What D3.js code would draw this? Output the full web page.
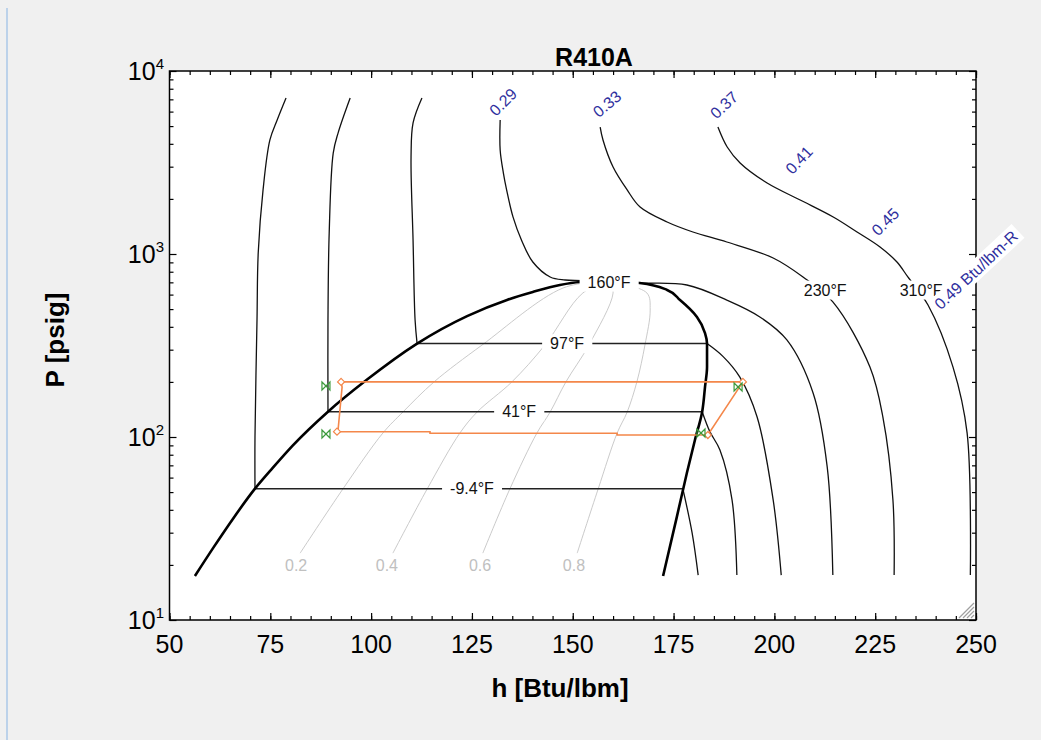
<!DOCTYPE html>
<html>
<head>
<meta charset="utf-8">
<script src="https://cdnjs.cloudflare.com/ajax/libs/d3/7.8.5/d3.min.js"></script>
<style>
body { margin: 0; background: #f0f0f0; }
svg { display: block; font-family: "Liberation Sans", Arial, sans-serif; }
</style>
</head>
<body>
<svg id="chart" width="1041" height="740"></svg>
<script>
// axis ticks
var hMajor = [50, 75, 100, 125, 150, 175, 200, 225, 250];
var pMajor = [10, 100, 1000, 10000];

// saturation dome [h Btu/lbm, P psig]
var satLiquid = [[56.3,17.4],[60.8,24.7],[65.8,35.9],[71.2,52.2],[75.7,68.2],[80.6,90.0],[89.3,137.5],[99.0,206],[111.4,324],[123.8,458],[133.7,561],[140.1,620],[146.8,677],[151.8,703],[159.2,712]];
var satVapor = [[159.2,712],[166.6,694],[173.4,636],[176.6,560],[180.8,453],[182.8,370],[183.3,324],[183.3,241],[182.8,188],[182.1,137.5],[180.3,96.3],[178.3,63.6],[175.8,36.5],[172.4,17.4]];

// isotherms, liquid branch and vapor branch
var isoM9Liq = [[78.9,7120],[76.7,5400],[74.9,4200],[73.2,2240],[72.0,1013],[71.7,436],[71.2,100],[71.2,52.2]];
var isoM9Vap = [[177.3,52.2],[179.6,29.9],[181.1,17.6]];
var iso41Liq = [[94.8,7120],[91.8,4580],[90.6,3560],[89.6,1300],[89.3,436],[89.3,137.5]];
var iso41Vap = [[182.1,137.5],[184.0,107],[186.5,84.9],[189.5,45.3],[190.7,17.6]];
var iso97Liq = [[112.6,7120],[110.4,5200],[109.9,3390],[110.4,1190],[110.9,436],[111.4,324]];
var iso97Vap = [[183.3,324],[187.3,275],[191.4,213],[195.7,129],[199.7,45.3],[201.7,17.6]];
// supercritical / through critical point
var iso160 = [[132.0,5400],[132.0,3700],[132.8,2770],[133.6,2240],[135.2,1590],[137.3,1190],[140.1,904],[144.4,749],[148.1,721],[159.2,712],[166.6,694],[178.3,677],[188.2,560],[196.4,453],[203.1,339],[209.6,174],[213.1,68.6],[214.5,17.6]];
var iso230 = [[156.8,4940],[157.5,4200],[160.0,2990],[163.5,2240],[166.7,1806],[173.4,1496],[179.8,1319],[188.2,1163],[199.7,951],[207.1,749],[214.5,547],[223.7,241],[226.9,129],[229.4,45.3],[229.7,17.6]];
var iso310 = [[186.0,4940],[188.3,3842],[191.5,3143],[198.2,2443],[206.4,1973],[214.6,1593],[220.5,1319],[226.2,1092],[230.4,904],[233.1,749],[238.1,526],[244.3,241],[247.8,105],[248.6,17.6]];

// constant quality lines
var q02 = [[82.4,23.2],[93.0,52.0],[102.9,105],[107.9,137],[115.6,200],[127.5,318],[147.6,652],[159.2,712]];
var q04 = [[105.4,23.2],[113.9,52.0],[122.0,105],[126.3,137],[134.9,200],[143.1,318],[152.5,612],[159.2,712]];
var q06 = [[127.7,23.2],[134.4,52.0],[141.1,105],[144.4,137],[148.3,200],[154.0,318],[160.0,612],[159.2,712]];
var q08 = [[151.1,23.2],[156.3,52.0],[161.0,105],[163.5,137],[165.9,200],[167.9,318],[169.2,494],[168.4,612],[159.2,712]];

// refrigeration cycle
var cycleLine = [[92.55,200],[192.2,200],[183.5,102.5],[161.0,102.5],[161.0,104.8],[114.6,104.8],[114.6,106.9],[91.54,106.9],[91.8,109.2],[92.8,187.6],[92.55,200]];
var statePts = [[92.55,200],[192.2,200],[183.5,102.5],[91.54,106.9]];
var valvePts = [[88.8,190],[88.8,103.8],[191.0,187.6],[181.8,105.2]];

// labels
var isoLabels = [['-9.4°F',125.0,52.2],['41°F',136.7,137.5],['97°F',148.6,324],['160°F',159.0,703],['230°F',212.6,636],['310°F',236.4,636]];
var qualLabels = [['0.2',81.4,20],['0.4',103.9,20],['0.6',127.0,20],['0.8',150.3,20]];
var entLabels = [['0.29',132.7,6770],['0.33',158.5,6600],['0.37',187.5,6520],['0.41',206.1,3260],['0.45',227.5,1500],['0.49 Btu/lbm-R',250.0,818]];
var entAngles = [-45, -40, -43, -47, -45, -43];

var svg = d3.select('#chart');
var plotL = 169.5, plotR = 976, plotT = 71, plotB = 620;

var x = d3.scaleLinear().domain([50, 250]).range([plotL, plotR]);
var y = d3.scaleLog().domain([10, 10000]).range([plotB, plotT]);

var line = d3.line().x(function(d){ return x(d[0]); }).y(function(d){ return y(d[1]); });
var smooth = d3.line().x(function(d){ return x(d[0]); }).y(function(d){ return y(d[1]); })
	.curve(d3.curveCatmullRom.alpha(0.5));

// window edge
svg.append('rect').attr('x', 6).attr('y', 8).attr('width', 2).attr('height', 732).attr('fill', '#bcd2ea');

svg.append('rect').attr('x', plotL).attr('y', plotT).attr('width', plotR - plotL).attr('height', plotB - plotT)
	.attr('fill', '#fff');

//ticks, all pointing inward
var hMinor = d3.range(50, 251, 5);
var pMinor = [];
[10, 100, 1000].forEach(function(d){ for (var k = 2; k < 10; k++) pMinor.push(d * k); });

function tickAxis(axis, vals, size, tx, ty) {
	var g = svg.append('g').attr('transform', 'translate(' + tx + ',' + ty + ')')
		.call(axis.tickValues(vals).tickSize(-size).tickFormat(''));
	g.select('.domain').remove();
	g.selectAll('line').attr('stroke', '#000').attr('stroke-width', 1.2);
	return g;
}
tickAxis(d3.axisBottom(x), hMinor, 4, 0, plotB);
tickAxis(d3.axisBottom(x), hMajor, 7, 0, plotB);
tickAxis(d3.axisTop(x), hMinor, 4, 0, plotT);
tickAxis(d3.axisTop(x), hMajor, 7, 0, plotT);
tickAxis(d3.axisLeft(y), pMinor, 4, plotL, 0);
tickAxis(d3.axisLeft(y), pMajor, 7, plotL, 0);
tickAxis(d3.axisRight(y), pMinor, 4, plotR, 0);
tickAxis(d3.axisRight(y), pMajor, 7, plotR, 0);

// tick labels
svg.append('g').selectAll('text').data(hMajor).enter().append('text')
	.attr('x', function(d){ return x(d); }).attr('y', 653)
	.attr('text-anchor', 'middle').style('font-size', '25px').text(function(d){ return d; });

var yLab = svg.append('g').selectAll('text').data(pMajor).enter().append('text')
	.attr('x', 164).attr('y', function(d){ return y(d) + 9; })
	.attr('text-anchor', 'end').style('font-size', '25px');
yLab.append('tspan').text('10');
yLab.append('tspan').attr('dy', -11).style('font-size', '15px')
	.text(function(d){ return Math.round(Math.log10(d)); });

svg.append('rect').attr('x', plotL).attr('y', plotT).attr('width', plotR - plotL).attr('height', plotB - plotT)
	.attr('fill', 'none').attr('stroke', '#000').attr('stroke-width', 1.5);

// resize grip
svg.append('g').selectAll('line').data([0, 1, 2, 3]).enter().append('line')
	.attr('x1', function(i){ return 959 + i * 4; }).attr('y1', 618)
	.attr('x2', 974).attr('y2', function(i){ return 603 + i * 4; })
	.attr('stroke', '#a0a0a0').attr('stroke-width', 1.3);

var plot = svg.append('g');

// quality lines
[q02, q04, q06, q08].forEach(function(q){
	plot.append('path').attr('d', smooth(q)).attr('fill', 'none')
		.attr('stroke', '#c4c4c4').attr('stroke-width', 0.9);
});

function drawIso(liq, vap) {
	plot.append('path').attr('d', smooth(liq)).attr('fill', 'none').attr('stroke', '#111').attr('stroke-width', 1.3);
	plot.append('path').attr('d', line([liq[liq.length - 1], vap[0]])).attr('fill', 'none').attr('stroke', '#222').attr('stroke-width', 1.5);
	plot.append('path').attr('d', smooth(vap)).attr('fill', 'none').attr('stroke', '#111').attr('stroke-width', 1.3);
}
drawIso(isoM9Liq, isoM9Vap);
drawIso(iso41Liq, iso41Vap);
drawIso(iso97Liq, iso97Vap);
[iso160, iso230, iso310].forEach(function(t){
	plot.append('path').attr('d', smooth(t)).attr('fill', 'none').attr('stroke', '#111').attr('stroke-width', 1.3);
});

// dome
plot.append('path').attr('d', smooth.curve(d3.curveMonotoneX)(satLiquid)).attr('fill', 'none')
	.attr('stroke', '#000').attr('stroke-width', 2.6);
plot.append('path').attr('d', smooth.curve(d3.curveMonotoneY)(satVapor)).attr('fill', 'none')
	.attr('stroke', '#000').attr('stroke-width', 2.6);
smooth.curve(d3.curveCatmullRom.alpha(0.5));

// cycle
plot.append('path').attr('d', line(cycleLine)).attr('fill', 'none')
	.attr('stroke', '#f4874a').attr('stroke-width', 1.6);
plot.selectAll('.state').data(statePts).enter().append('path').attr('class', 'state')
	.attr('transform', function(d){ return 'translate(' + x(d[0]) + ',' + y(d[1]) + ')'; })
	.attr('d', 'M0,-3.5L3.5,0L0,3.5L-3.5,0Z').attr('fill', '#fff').attr('stroke', '#f4874a').attr('stroke-width', 1.2);
plot.selectAll('.valve').data(valvePts).enter().append('path').attr('class', 'valve')
	.attr('transform', function(d){ return 'translate(' + x(d[0]) + ',' + y(d[1]) + ')'; })
	.attr('d', 'M-4,-4L4,4L4,-4L-4,4Z').attr('fill', 'none').attr('stroke', '#3c9a3c').attr('stroke-width', 1.2);

function boxLabel(txt, px, py, size, color, angle, padX, padY, box) {
	var g = svg.append('g').attr('transform', 'translate(' + px + ',' + py + ') rotate(' + angle + ')');
	var r = g.append('rect').attr('fill', '#fff');
	var t = g.append('text').attr('text-anchor', 'middle').attr('dy', '0.35em')
		.style('font-size', size + 'px').attr('fill', color).text(txt);
	var b = t.node().getBBox();
	if (box) r.attr('x', b.x - padX).attr('y', b.y - padY).attr('width', b.width + 2 * padX).attr('height', b.height + 2 * padY);
	else r.remove();
}

isoLabels.forEach(function(l){ boxLabel(l[0], x(l[1]), y(l[2]), 16, '#111', 0, 8, 1, true); });
qualLabels.forEach(function(l){ boxLabel(l[0], x(l[1]), y(l[2]), 16, '#c0c0c0', 0, 0, 0, false); });
entLabels.forEach(function(l, i){ boxLabel(l[0], x(l[1]), y(l[2]), 16, '#2f2f9e', entAngles[i], 4, 1, true); });

// titles
svg.append('text').attr('x', 594).attr('y', 66).attr('text-anchor', 'middle')
	.style('font-size', '25px').style('font-weight', 'bold').text('R410A');
svg.append('text').attr('x', 560).attr('y', 697).attr('text-anchor', 'middle')
	.style('font-size', '26px').style('font-weight', 'bold').text('h [Btu/lbm]');
svg.append('text').attr('transform', 'translate(64,340) rotate(-90)').attr('text-anchor', 'middle')
	.style('font-size', '26px').style('font-weight', 'bold').text('P [psig]');
</script>
</body>
</html>
